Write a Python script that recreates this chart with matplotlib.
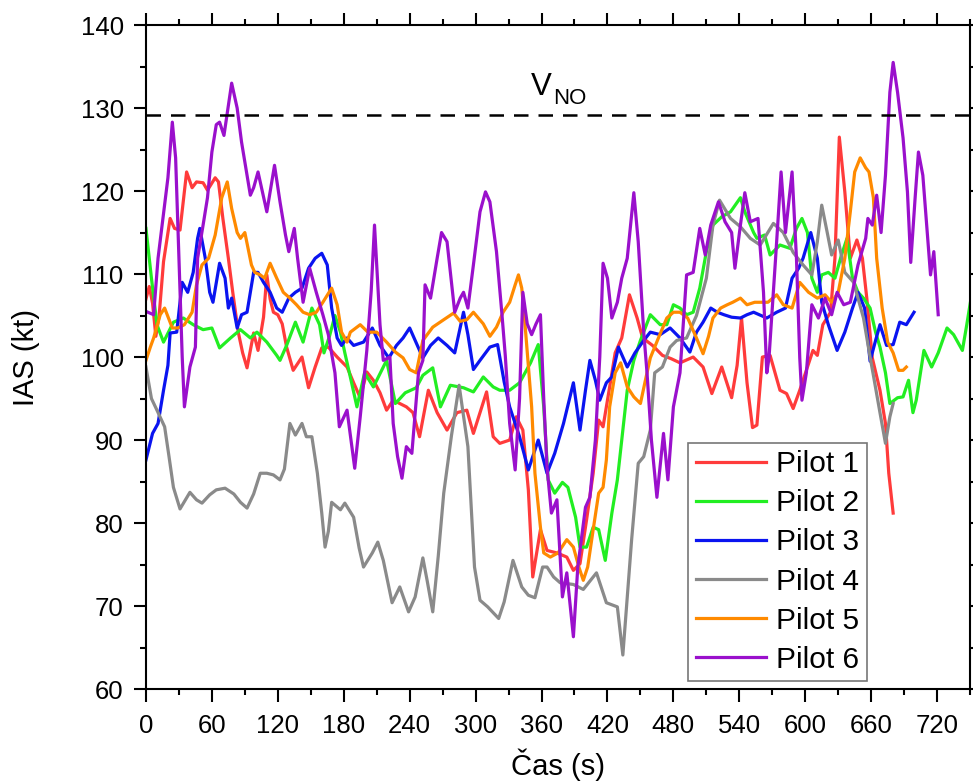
import matplotlib
matplotlib.use("Agg")
import matplotlib.pyplot as plt
from matplotlib.ticker import MultipleLocator

plt.rcParams["font.family"] = ["Liberation Sans", "DejaVu Sans"]

# IAS traces (time in s, speed in kt)
t1 = [0, 3, 6, 9, 12, 16, 22, 26, 31, 37, 42, 46, 52, 56, 63, 66, 70, 75, 79, 84,
      88, 92, 98, 102, 107, 110, 113, 116, 120, 124, 128, 134, 142, 148, 154, 160, 166,
      174, 183, 189, 195, 201, 207, 213, 219, 225, 231, 237, 243, 249, 257, 265, 274,
      283, 292, 298, 304, 310, 316, 322, 331, 337, 343, 348, 352, 359, 365, 374, 383,
      389, 395, 401, 407, 412, 416, 422, 427, 433, 440, 447, 452, 461, 470, 478, 486,
      498, 507, 515, 524, 533, 538, 542, 547, 552, 556, 561, 568, 577, 583, 589, 595,
      601, 607, 611, 616, 623, 627, 631, 636, 641, 647, 652, 656, 661, 668, 673, 676, 680]
v1 = [107, 108.5, 106.5, 102.5, 105, 111.5, 116.7, 115.5, 115.3, 122.3, 120.4, 121.1,
      121, 120.1, 121.6, 121.1, 116.7, 111.9, 107.8, 103, 100.5, 98.7, 102.9, 100.8,
      104.8, 109.9, 107, 105.4, 105.1, 104, 101.2, 98.4, 100, 96.3, 98.8, 101.1, 101.2,
      100, 98.8, 96.9, 95.1, 98.2, 97.2, 95.7, 93.6, 94.8, 94.4, 94, 93.3, 90.4, 96,
      93.3, 91.2, 93.3, 93.6, 90.8, 93.3, 95.8, 90.4, 89.6, 90, 92.8, 91.2, 84, 73.5,
      79.2, 76.7, 76.4, 75.9, 74.3, 75.1, 80.4, 86, 92.4, 91.6, 96.4, 100.5, 102.3,
      107.5, 104.7, 102.3, 101.4, 100.2, 99.8, 99.3, 100, 98.8, 95.6, 98.8, 95.1, 99,
      104.7, 96.9, 91.5, 91.8, 100, 100.2, 96, 95.6, 93.8, 96, 98.4, 100.8, 100.2,
      103.9, 105.4, 111.9, 126.5, 119.9, 111.9, 114.1, 111.9, 107.1, 99.9, 96, 92,
      86, 81.2]

t2 = [0, 5, 10, 16, 25, 34, 43, 52, 60, 67, 77, 86, 95, 101, 110, 119, 122, 128, 136,
      143, 151, 158, 162, 167, 172, 177, 181, 187, 192, 199, 207, 213, 219, 227, 236,
      246, 252, 261, 268, 277, 289, 298, 307, 316, 322, 331, 340, 350, 357, 362, 366,
      372, 379, 384, 391, 395, 401, 407, 412, 418, 424, 429, 433, 438, 444, 450, 459,
      468, 474, 480, 486, 492, 498, 504, 510, 516, 524, 532, 541, 545, 553, 556, 563,
      568, 577, 586, 592, 597, 602, 606, 611, 615, 621, 627, 633, 638, 643, 648, 653,
      659, 664, 668, 673, 677, 684, 689, 694, 698, 701, 708, 715, 721, 729, 735, 743,
      747, 752]
v2 = [115.5, 109.5, 103.9, 101.8, 104.2, 104.7, 103.9, 103.3, 103.5, 101.1, 102.3,
      103.3, 102.3, 103, 101.8, 100.2, 99.6, 101.4, 104.2, 101.8, 105.9, 103.9, 100.5,
      102.5, 105, 103, 100.5, 97, 94, 98.1, 96.4, 98, 99.6, 94.4, 95.7, 96.3, 97.8,
      98.7, 94, 96.6, 96.3, 95.8, 97.6, 96.4, 96, 96, 96.9, 99.3, 101.5, 94, 85.2,
      83.6, 84.9, 84.3, 80.7, 77.1, 77.1, 79.5, 79.2, 75.5, 81.2, 85.2, 90, 96, 99.6,
      102, 105.1, 103.9, 103.9, 106.3, 105.9, 105.1, 105.4, 108.3, 112.7, 115.9,
      116.9, 117.5, 119.2, 117.5, 115, 114.3, 114.7, 112.3, 113.5, 113.1, 115.5,
      116.7, 115, 109.5, 107.8, 109.9, 110.2, 109.5, 112.3, 114.3, 109.5, 107.8,
      107.1, 105.9, 103, 101.2, 98.1, 94.4, 95.1, 95.2, 97.2, 93.3, 94.8, 100.8,
      98.8, 100.5, 103.5, 102.7, 100.8, 103.9, 108]

t3 = [0, 6, 11, 16, 20, 22, 28, 33, 38, 43, 47, 49, 54, 58, 61, 67, 72, 75, 78, 83,
      87, 92, 98, 102, 107, 113, 119, 124, 130, 136, 142, 148, 154, 160, 165, 169, 174,
      178, 183, 189, 198, 206, 213, 221, 228, 234, 240, 248, 252, 259, 266, 274, 281,
      289, 293, 298, 304, 313, 320, 326, 331, 340, 348, 357, 365, 372, 380, 389, 395,
      400, 404, 409, 413, 419, 424, 430, 438, 445, 453, 459, 468, 477, 486, 495, 501,
      507, 514, 520, 526, 533, 541, 547, 553, 565, 574, 582, 588, 594, 598, 605, 611,
      615, 621, 629, 636, 643, 648, 654, 659, 664, 668, 674, 680, 686, 692, 699]
v3 = [87.6, 90.8, 92, 96, 99, 102.9, 103, 109, 107.8, 110.2, 114.3, 115.5, 111.9,
      107.8, 106.6, 111.3, 109.5, 105.9, 107.1, 103.5, 105.1, 105.4, 110.2, 110.2,
      109, 107.8, 105.9, 105.4, 107.1, 107.8, 108.3, 110.7, 111.9, 112.5, 111.1,
      105.9, 102.3, 101.4, 102.3, 101.4, 101.8, 103.5, 101.4, 99.9, 101.4, 102.3,
      103.5, 101.1, 99.9, 101.4, 102.3, 101.4, 100.5, 105.4, 102.7, 98.5, 99.6,
      101.2, 101.5, 97, 94, 90.4, 86.4, 90, 86, 88.4, 92, 96.9, 91.2, 96, 99.6, 97.2,
      94.8, 96.9, 97.6, 101.2, 98.8, 100.5, 102, 103, 102.7, 103.5, 102.3, 100.6,
      103, 104.2, 105.9, 105.4, 105.1, 104.8, 104.7, 105.1, 105.4, 104.7, 105.4,
      105.9, 109.5, 110.7, 111.9, 115, 111.9, 106.6, 103.9, 100.8, 103, 105.9,
      107.8, 105.9, 99.5, 102, 103.9, 101.4, 101.5, 104.2, 103.9, 105.4]

t4 = [0, 5, 10, 17, 21, 25, 31, 40, 46, 51, 58, 64, 72, 80, 86, 92, 98, 104, 110,
      116, 122, 126, 131, 136, 142, 146, 151, 156, 160, 163, 166, 169, 177, 181, 189,
      194, 198, 206, 211, 216, 224, 231, 239, 245, 252, 256, 261, 266, 271, 278, 285,
      293, 299, 304, 311, 316, 321, 326, 334, 342, 348, 354, 361, 365, 371, 377, 389,
      398, 410, 419, 429, 434, 442, 448, 453, 459, 463, 470, 477, 483, 492, 501, 510,
      516, 522, 532, 541, 550, 559, 571, 580, 589, 598, 606, 611, 615, 620, 624, 630,
      636, 644, 653, 659, 662, 668, 673, 677, 680]
v4 = [98.8, 95, 93.6, 91.6, 88, 84.3, 81.7, 83.7, 82.8, 82.4, 83.4, 84, 84.2, 83.5,
      82.5, 81.8, 83.5, 86, 86, 85.8, 85.2, 86.5, 92, 90.6, 92, 90.4, 90.4, 86, 81.2,
      77.1, 79, 82.5, 81.6, 82.4, 80.7, 77, 74.7, 76.4, 77.7, 75.5, 70.4, 72.3, 69.3,
      71.1, 75.8, 73, 69.3, 76, 83.6, 90.5, 96.6, 89.2, 74.7, 70.7, 69.9, 69.2, 68.5,
      70.5, 75.5, 72.3, 71.3, 71, 74.7, 74.7, 73.5, 72.8, 72.6, 72, 74, 70.4, 69.9,
      64.1, 78, 87.2, 88, 91.2, 98.1, 98.8, 101.2, 102, 102.3, 105, 109.5, 115.9,
      118.9, 116.7, 115.7, 114.3, 113.5, 116.1, 115, 112.6, 111.1, 109.9, 113.9,
      118.3, 115, 112.3, 114.1, 110.2, 109, 104.7, 100, 97.8, 93.3, 89.6, 92.8, 94.4]

t5 = [0, 4, 7, 13, 17, 24, 29, 35, 42, 46, 51, 57, 63, 69, 74, 78, 83, 86, 90, 96, 99,
      104, 108, 113, 119, 125, 131, 137, 143, 149, 155, 161, 169, 174, 178, 183, 186,
      195, 202, 210, 219, 227, 234, 240, 246, 252, 261, 271, 280, 286, 292, 298, 307,
      313, 319, 325, 331, 336, 339, 342, 345, 351, 354, 359, 362, 368, 375, 383, 389,
      394, 398, 402, 407, 412, 416, 419, 422, 427, 432, 438, 444, 450, 455, 459, 467,
      474, 480, 486, 493, 501, 507, 512, 516, 523, 529, 534, 541, 547, 554, 566, 574,
      580, 588, 595, 603, 611, 618, 624, 630, 636, 641, 645, 650, 655, 658, 662, 665,
      670, 675, 680, 685, 689, 692]
v5 = [99.6, 101.2, 102.3, 105.1, 105.9, 103.5, 103.5, 103.9, 105.4, 108.7, 111.1,
      111.9, 114.7, 119.2, 121.1, 117.9, 115, 114.3, 115, 111.1, 110.2, 109.9, 109.5,
      111.3, 109.5, 107.8, 107.1, 106.3, 105.4, 105.1, 105.4, 106.6, 108.3, 106.3, 103,
      101.8, 103, 103.9, 103, 103, 101.8, 100.6, 99.9, 98.5, 98.1, 102, 103.6, 104.5,
      105.3, 104.3, 104.5, 105.4, 104, 102.5, 103.6, 105.4, 106.6, 108.7, 109.9, 108.3,
      103.9, 94, 86, 79.5, 76.4, 75.9, 76.4, 78, 77.1, 74.7, 73.1, 74.7, 79.2, 83.6,
      84.3, 87.6, 94, 98.1, 99.3, 96.4, 95.2, 94.4, 97.5, 99.9, 102.5, 104.7, 105.4,
      105.4, 104.7, 102.3, 100.4, 102.5, 104.7, 105.9, 106.3, 106.6, 107.1, 106.3,
      106.6, 106.6, 107.5, 106.3, 105.9, 109, 107.8, 107.1, 107.5, 106.6, 107.8, 111.9,
      117.5, 122.3, 124, 122.8, 122.3, 119.2, 111.9, 105.9, 101.8, 100.5, 98.4, 98.4,
      98.8]

t6 = [0, 7, 11, 17, 20, 24, 27, 31, 33, 35, 40, 45, 47, 52, 56, 60, 64, 67, 71, 78,
      83, 87, 95, 98, 102, 110, 117, 122, 127, 130, 135, 138, 143, 149, 155, 161, 166,
      172, 176, 183, 190, 195, 201, 205, 208, 213, 216, 222, 225, 229, 233, 237, 242,
      248, 252, 254, 259, 265, 269, 274, 281, 286, 289, 293, 298, 304, 309, 313, 319,
      324, 327, 331, 336, 340, 343, 347, 351, 355, 359, 362, 365, 369, 374, 379, 383,
      389, 393, 400, 404, 409, 413, 416, 420, 424, 429, 433, 438, 444, 448, 453, 456,
      460, 465, 471, 475, 480, 486, 492, 498, 504, 509, 514, 521, 527, 533, 536, 541,
      545, 550, 557, 562, 565, 567, 573, 578, 582, 588, 592, 595, 597, 601, 606, 612,
      618, 624, 629, 635, 641, 648, 655, 657, 661, 665, 669, 673, 677, 680, 684, 689,
      693, 696, 700, 703, 707, 714, 717, 721]
v6 = [105.5, 105.1, 111.9, 118.3, 121.6, 128.3, 124, 107.8, 100, 94, 98.8, 101.2,
      111.9, 115.9, 119.2, 124.7, 128, 128.3, 126.7, 133, 130, 125.9, 119.5, 120.4,
      122.3, 117.5, 123.1, 118.7, 114.7, 112.7, 115.5, 111.9, 106.6, 110.7, 107.8,
      105.1, 102.7, 98.1, 91.6, 93.6, 86.6, 92.8, 100.8, 108, 115.9, 103.9, 99.6, 100,
      92, 88, 85.4, 89.2, 88.4, 98.1, 99.6, 108.7, 107.1, 111.9, 115, 113.9, 105.4,
      107.1, 107.8, 105.9, 111.1, 117.5, 119.9, 118.7, 112.7, 105.1, 100.2, 92, 86.4,
      95, 107.8, 104, 102.7, 104, 105.1, 95, 86.7, 81.2, 82.8, 71.1, 74, 66.3, 74.7,
      81.9, 83.1, 90, 100, 111.3, 109.5, 104.7, 106.6, 109.5, 111.9, 119.8, 113.9, 103,
      98.1, 90, 83.1, 90.8, 85.2, 94, 98.1, 109.9, 110.2, 115.5, 112.3, 115.9, 118.7,
      116.3, 115, 110.7, 115.9, 119.8, 116.3, 116.7, 107.8, 98.1, 99.9, 111.9, 122.3,
      115, 122.3, 111.9, 99.9, 94.8, 98.1, 106.3, 104.7, 107.1, 105.1, 107.8, 106.3,
      106.6, 111.1, 114.3, 116.7, 115.9, 119.5, 115, 121.9, 131.9, 135.5, 131.9, 126.4,
      119.9, 111.4, 119.2, 124.7, 121.9, 109.9, 112.7, 105.1]

series = [(t1, v1), (t2, v2), (t3, v3), (t4, v4), (t5, v5), (t6, v6)]
labels = ["Pilot 1", "Pilot 2", "Pilot 3", "Pilot 4", "Pilot 5", "Pilot 6"]
colors = ["#ff3b3b", "#22ee22", "#0a14f0", "#8a8a8a", "#ff8a00", "#9a10cc"]
v_no = 129.2

fig = plt.figure(figsize=(9.73, 7.83), dpi=100)
ax = fig.add_axes([0.150, 0.120, 0.847, 0.848])

for (t, v), lab, c in zip(series, labels, colors):
    ax.plot(t, v, color=c, lw=2.3, label=lab, solid_joinstyle="round")

ax.axhline(v_no, color="black", lw=1.8, dashes=(5.8, 4.0))
ax.text(350, 131.6, "V", fontsize=22.5, ha="left", va="baseline")
ax.text(370.5, 130.5, "NO", fontsize=16, ha="left", va="baseline")

ax.set_xlim(0, 750)
ax.set_ylim(60, 140)
ax.xaxis.set_major_locator(MultipleLocator(60))
ax.xaxis.set_minor_locator(MultipleLocator(30))
ax.yaxis.set_major_locator(MultipleLocator(10))
ax.yaxis.set_minor_locator(MultipleLocator(5))
ax.tick_params(which="both", direction="out", top=True, right=True, width=1.5)
ax.tick_params(which="major", length=9, labelsize=18.5)
ax.tick_params(which="minor", length=4.5)
ax.tick_params(axis="x", which="major", pad=9)
ax.tick_params(axis="y", which="major", pad=7)
for s in ax.spines.values():
    s.set_linewidth(1.5)

ax.set_xlabel("Čas (s)", fontsize=21)
ax.set_ylabel("IAS (kt)", fontsize=21)
ax.xaxis.set_label_coords(0.5, -0.089)
ax.yaxis.set_label_coords(-0.128, 0.5)

leg = ax.legend(loc="lower right", bbox_to_anchor=(0.875, 0.012), borderaxespad=0,
                fontsize=21.5, frameon=True, fancybox=False, handlelength=2.35,
                handletextpad=0.35, labelspacing=0.37, borderpad=0.25)
leg.get_frame().set_edgecolor("#555555")
leg.get_frame().set_linewidth(1.2)
for line in leg.get_lines():
    line.set_linewidth(2.3)

fig.savefig("out.png", dpi=100)
